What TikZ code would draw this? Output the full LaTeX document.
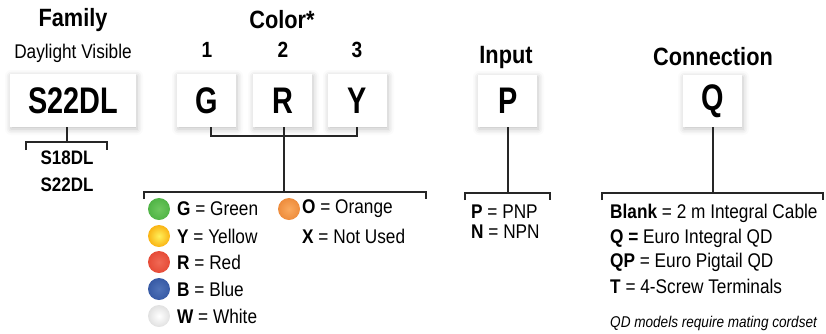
\documentclass[tikz,border=0pt]{standalone}
\usepackage{fontspec}
\setmainfont{Liberation Sans}[FakeStretch=0.87]
\newfontfamily\boxfont{Liberation Sans}[FakeStretch=0.78]
\usetikzlibrary{shadows.blur}
\definecolor{cgreen}{RGB}{80,180,70}
\definecolor{cgreenin}{RGB}{110,200,95}
\definecolor{cyellow}{RGB}{250,180,20}
\definecolor{cyellowin}{RGB}{255,240,90}
\definecolor{cred}{RGB}{230,75,55}
\definecolor{credin}{RGB}{240,105,85}
\definecolor{cblue}{RGB}{55,90,165}
\definecolor{cbluein}{RGB}{80,115,185}
\definecolor{corange}{RGB}{238,140,60}
\definecolor{corangein}{RGB}{250,170,95}
\definecolor{cwhiteout}{RGB}{225,225,225}
\begin{document}
\begin{tikzpicture}[x=1pt,y=-1pt,
  codebox/.style={fill=white, inner sep=0pt, blur shadow={shadow xshift=1pt, shadow yshift=-2pt, shadow blur radius=6pt, shadow opacity=25}},
  codetxt/.style={font=\boxfont\bfseries\fontsize{37}{40}\selectfont, inner sep=0pt},
  head/.style={font=\bfseries\fontsize{25}{28}\selectfont, inner sep=0pt},
  sub/.style={font=\fontsize{19.8}{22}\selectfont, inner sep=0pt},
  num/.style={font=\bfseries\fontsize{22}{24}\selectfont, inner sep=0pt},
  item/.style={font=\fontsize{19.8}{22}\selectfont, inner sep=0pt, anchor=west},
  conn/.style={line width=1.2pt, black!85},
  dot/.style={circle, minimum size=22pt, inner sep=0pt, shading=radial}
]
\useasboundingbox (0,0) rectangle (826,333);

% headings
\node[head] (hfam) at (73,20) {Family};
\node[sub] (hday) at (73,53) {Daylight Visible};
\node[head] (hcol) at (282,20) {Color*};
\node[num] (n1) at (207,50) {1};
\node[num] (n2) at (283,50) {2};
\node[num] (n3) at (357,50) {3};
\node[head] (hin) at (506,57) {Input};
\node[head] (hcon) at (713,57) {Connection};

% boxes
\path[codebox] (10,74) rectangle (136,127);
\path[codebox] (177,74) rectangle (236,127);
\path[codebox] (253,74) rectangle (312,127);
\path[codebox] (328,74) rectangle (387,127);
\path[codebox] (478,75) rectangle (537,127);
\path[codebox] (683,75) rectangle (742,127);
\node[codetxt] (bfam) at (73,101) {S22DL};
\node[codetxt] (bg) at (207,101) {G};
\node[codetxt] (br) at (283,101) {R};
\node[codetxt] (by) at (357,101) {Y};
\node[codetxt] (bp) at (508,101) {P};
\node[codetxt] (bq) at (713,101) {Q};

\coordinate (famtop) at (67,127);
\coordinate (gtop) at (211,127);
\coordinate (ytop) at (357,127);
\coordinate (rtop) at (284,127);
\coordinate (ptop) at (508,127);
\coordinate (qtop) at (713,127);

% family bracket
\draw[conn] (famtop) -- (67,142);
\draw[conn] (26,150) -- (26,142) -- (107,142) -- (107,150);
\node[font=\bfseries\fontsize{19.5}{22}\selectfont, inner sep=0pt] (f1) at (67,158) {S18DL};
\node[font=\bfseries\fontsize{19.5}{22}\selectfont, inner sep=0pt] (f2) at (67,185) {S22DL};

% color bracket
\draw[conn] (gtop) -- (211,136) -- (357,136) -- (ytop);
\draw[conn] (rtop) -- (284,192);
\draw[conn] (144,199) -- (144,192) -- (426,192) -- (426,199);

\node[dot, inner color=cgreenin, outer color=cgreen] (dg) at (159,209) {};
\node[dot, inner color=cyellowin, outer color=cyellow] (dy) at (159,236) {};
\node[dot, inner color=credin, outer color=cred] (dr) at (159,262) {};
\node[dot, inner color=cbluein, outer color=cblue] (db) at (159,289) {};
\node[dot, inner color=white, outer color=cwhiteout] (dw) at (159,316) {};
\node[dot, inner color=corangein, outer color=corange] (do) at (289,209) {};

\node[item] (tg) at (177,209) {\textbf{G} = Green};
\node[item] (ty) at (177,236) {\textbf{Y} = Yellow};
\node[item] (tr) at (177,262) {\textbf{R} = Red};
\node[item] (tb) at (177,289) {\textbf{B} = Blue};
\node[item] (tw) at (177,316) {\textbf{W} = White};
\node[item] (to) at (302,209) {\textbf{O} = Orange};
\node[item] (tx) at (302,236) {\textbf{X} = Not Used};

% input bracket
\draw[conn] (ptop) -- (508,193);
\draw[conn] (465,200) -- (465,193) -- (550,193) -- (550,200);
\node[item] (tp) at (471,212) {\textbf{P} = PNP};
\node[item] (tn) at (471,232) {\textbf{N} = NPN};

% connection bracket
\draw[conn] (qtop) -- (713,193);
\draw[conn] (602,200) -- (602,193) -- (823,193) -- (823,200);
\node[item] (c1) at (610,213) {\textbf{Blank} = 2 m Integral Cable};
\node[item] (c2) at (610,238) {\textbf{Q =} Euro Integral QD};
\node[item] (c3) at (610,262) {\textbf{QP} = Euro Pigtail QD};
\node[item] (c4) at (610,286) {\textbf{T} = 4-Screw Terminals};
\node[item, font=\itshape\fontsize{15.6}{18}\selectfont] (c5) at (610,323) {QD models require mating cordset};
\end{tikzpicture}
\end{document}
